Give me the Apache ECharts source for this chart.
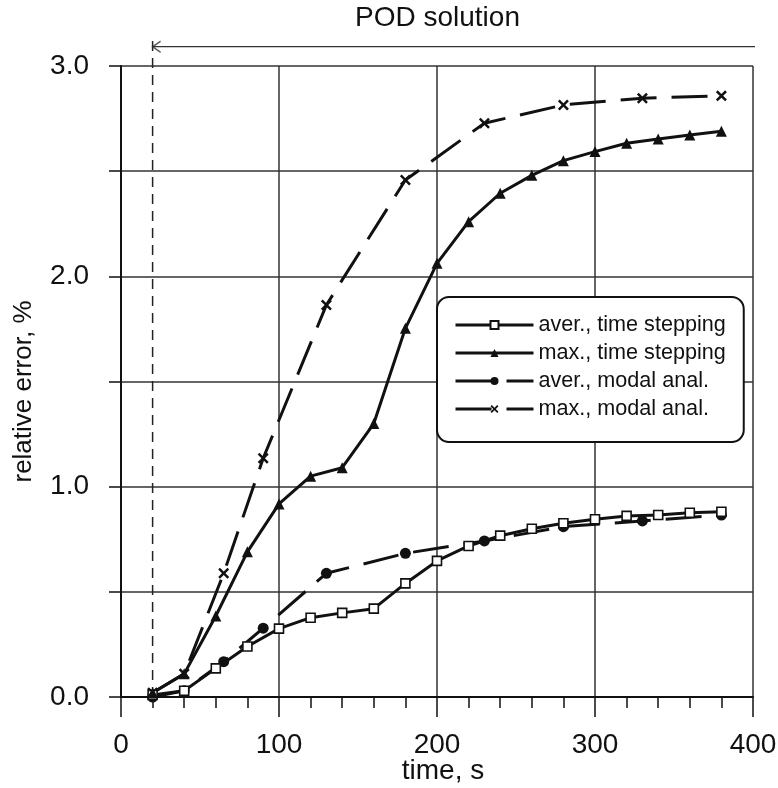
<!DOCTYPE html>
<html>
<head>
<meta charset="utf-8">
<script src="https://cdn.jsdelivr.net/npm/echarts@6/dist/echarts.min.js"></script>
<style>html,body{margin:0;padding:0;background:#fff;}#c{width:778px;height:788px;}</style>
</head>
<body>
<div id="c"></div>
<script>
// ---- data ----
const stepTimes = [20,40,60,80,100,120,140,160,180,200,220,240,260,280,300,320,340,360,380];
const averTimeStepping = [0.01,0.03,0.136,0.24,0.325,0.377,0.40,0.42,0.54,0.647,0.718,0.767,0.80,0.826,0.845,0.861,0.865,0.876,0.881];
const maxTimeStepping = [0.02,0.11,0.385,0.69,0.918,1.05,1.09,1.30,1.753,2.062,2.26,2.395,2.48,2.55,2.593,2.633,2.653,2.672,2.69];
const modalTimes = [20,40,65,90,130,180,230,280,330,380];
const averModal = [0.0,0.03,0.168,0.327,0.588,0.683,0.742,0.81,0.837,0.865];
const maxModal = [0.02,0.11,0.588,1.135,1.864,2.458,2.728,2.815,2.847,2.858];
const seriesNames = ['aver., time stepping','max., time stepping','aver., modal anal.','max., modal anal.'];
const podStart = 20;          // start of POD solution (s)
const podLineTop = 3.125;     // dashed line top (in error units)
const podArrowY = 3.092;      // arrow level
const podArrowEnd = 402;
const xTicks = [0,100,200,300,400];
const yTickLabels = ['0.0','1.0','2.0','3.0'];

const pair = (xs, ys) => xs.map((x, i) => [x, ys[i]]);
const FONT = 'Liberation Sans, Arial, sans-serif';
const INK = '#111';
const xMark = 'path://M0,1.6L1.6,0L5,3.4L8.4,0L10,1.6L6.6,5L10,8.4L8.4,10L5,6.6L1.6,10L0,8.4L3.4,5Z';
const dash = [36, 15];

const chart = echarts.init(document.getElementById('c'));
chart.setOption({
  animation: false,
  backgroundColor: '#fff',
  title: {
    text: 'POD solution', left: 355, top: 4, padding: 0,
    textStyle: {fontFamily: FONT, fontSize: 28, fontWeight: 'normal', color: INK}
  },
  grid: {left: 121, right: 25, top: 66, bottom: 91, containLabel: false, outerBoundsMode: 'none'},
  legend: {
    orient: 'vertical', left: 437, top: 297,
    data: seriesNames,
    itemWidth: 78, itemHeight: 10, itemGap: 6,
    padding: [17, 18, 22, 17],
    borderColor: INK, borderWidth: 2, borderRadius: 12,
    backgroundColor: '#fff',
    lineStyle: {width: 3, color: INK},
    textStyle: {fontFamily: FONT, fontSize: 21.6, color: INK}
  },
  xAxis: {
    type: 'value', min: 0, max: 400, interval: 100,
    name: 'time, s', nameLocation: 'middle', nameGap: 60, nameMoveOverlap: false,
    nameTextStyle: {fontFamily: FONT, fontSize: 28, color: INK, padding: [0,0,0,12]},
    axisLine: {show: true, onZero: false, lineStyle: {color: INK, width: 2}},
    axisTick: {show: true, length: 20, lineStyle: {color: INK, width: 1.5}},
    minorTick: {show: true, splitNumber: 5, length: 11, lineStyle: {color: INK, width: 1.5}},
    splitLine: {show: true, lineStyle: {color: '#333', width: 1.5}},
    axisLabel: {fontFamily: FONT, fontSize: 28, color: INK, margin: 34,
      formatter: v => xTicks.includes(v) ? String(v) : ''}
  },
  yAxis: {
    type: 'value', min: 0, max: 3, interval: 0.5,
    name: 'relative error, %', nameLocation: 'middle', nameGap: 84, nameMoveOverlap: false,
    nameTextStyle: {fontFamily: FONT, fontSize: 26, color: INK, padding: [0,20,0,0]},
    axisLine: {show: true, lineStyle: {color: INK, width: 2}},
    axisTick: {show: true, length: 12, lineStyle: {color: INK, width: 1.5}},
    splitLine: {show: true, lineStyle: {color: '#333', width: 1.5}},
    axisLabel: {fontFamily: FONT, fontSize: 28, color: INK, margin: 32,
      formatter: v => { const s = v.toFixed(1); return yTickLabels.includes(s) ? s : ''; }}
  },
  series: [
    {
      name: 'podLine', type: 'line', clip: false, silent: true, symbol: 'none',
      data: [[podStart, 0], [podStart, podLineTop]],
      lineStyle: {color: '#222', width: 1.5, type: [10, 7]}, z: 1
    },
    {
      name: 'podArrow', type: 'line', clip: false, silent: true, symbol: 'none',
      data: [[podStart, podArrowY], [podArrowEnd, podArrowY]],
      lineStyle: {color: '#333', width: 1.4}, z: 1
    },
    {
      name: 'podArrowHead', type: 'scatter', clip: false, silent: true,
      symbol: 'path://M10,0L0,5L10,10', symbolSize: [8, 11], symbolOffset: [4, 0],
      data: [[podStart, podArrowY]],
      itemStyle: {color: 'transparent', borderColor: '#333', borderWidth: 1.4}, z: 1
    },
    {
      name: seriesNames[0], type: 'line', data: pair(stepTimes, averTimeStepping),
      symbol: 'rect', symbolSize: 9, showSymbol: true,
      lineStyle: {color: INK, width: 3},
      itemStyle: {color: '#fff', borderColor: INK, borderWidth: 1.6}, z: 4
    },
    {
      name: seriesNames[1], type: 'line', data: pair(stepTimes, maxTimeStepping),
      symbol: 'triangle', symbolSize: 11,
      lineStyle: {color: INK, width: 3},
      itemStyle: {color: INK}, z: 4
    },
    {
      name: seriesNames[2], type: 'line', data: pair(modalTimes, averModal),
      symbol: 'circle', symbolSize: 11,
      lineStyle: {color: INK, width: 3, type: dash},
      itemStyle: {color: INK}, z: 3
    },
    {
      name: seriesNames[3], type: 'line', data: pair(modalTimes, maxModal),
      symbol: xMark, symbolSize: 11,
      lineStyle: {color: INK, width: 3, type: dash},
      itemStyle: {color: INK}, z: 3
    }
  ]
});
</script>
</body>
</html>
